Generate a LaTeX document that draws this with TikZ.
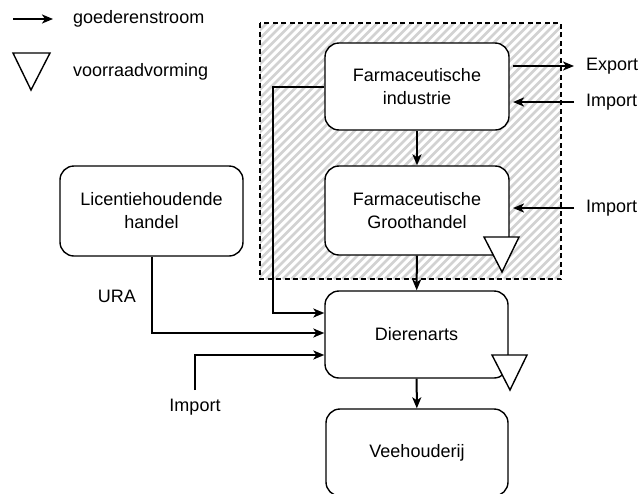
\documentclass[tikz,border=0pt]{standalone}
\usepackage{fontspec}
\setmainfont{Liberation Sans}
\usetikzlibrary{arrows.meta}
\begin{document}
\begin{tikzpicture}[x=1pt,y=-1pt,
  box/.style={draw,line width=1.4pt,rounded corners=14pt,fill=white,align=center,
    inner sep=0pt,font=\fontsize{18}{23}\selectfont},
  lbl/.style={inner sep=0pt,font=\fontsize{18}{23}\selectfont},
  flow/.style={line width=2pt,-{Stealth[length=11pt,width=9pt,inset=3pt]}},
  stock/.style={draw,line width=1.4pt,fill=white,line join=miter}
]
\useasboundingbox (0,0) rectangle (640,493);
% hatched region
\begin{scope}
  \clip (260,23) rectangle (561,279);
  \foreach \i in {-300,-291.5,...,320} {
    \draw[gray!35,line width=2.8pt] (260+\i,279) -- (260+\i+256,23);
  }
\end{scope}
\draw[dashed,dash pattern=on 5pt off 3.5pt,line width=1.3pt] (260,23) rectangle (561,279);

% boxes
\node[box,minimum width=184pt,minimum height=87pt] (ind) at (417,86.5) {Farmaceutische\\industrie};
\node[box,minimum width=184pt,minimum height=89pt] (gro) at (417,210.5) {Farmaceutische\\Groothandel};
\node[box,minimum width=183pt,minimum height=90pt] (lic) at (151.5,211) {Licentiehoudende\\handel};
\node[box,minimum width=183pt,minimum height=87pt] (dier) at (416.5,334.5) {Dierenarts};
\node[box,minimum width=182pt,minimum height=87pt] (vee) at (417,452.5) {Veehouderij};

% stock triangles
\draw[stock] (484,237) -- (519,237) -- (502,272) -- cycle;
\draw[stock] (492,355) -- (527,355) -- (510,390) -- cycle;

% labels
\node[lbl,anchor=west] (exp) at (586,66) {Export};
\node[lbl,anchor=west] (imp1) at (586,102) {Import};
\node[lbl,anchor=west] (imp2) at (586,208) {Import};
\node[lbl] (imp3) at (195,407) {Import};
\node[lbl] (ura) at (117,296) {URA};

% flows
\draw[flow] (ind) -- (gro);
\draw[flow] (gro) -- (dier);
\draw[flow] (dier) -- (vee);
\coordinate (e1) at (513,66);
\coordinate (e2) at (574,66);
\draw[flow] (e1) -- (e2);
\coordinate (i1a) at (574,102);
\coordinate (i1b) at (513,102);
\draw[flow] (i1a) -- (i1b);
\coordinate (i2a) at (574,208);
\coordinate (i2b) at (513,208);
\draw[flow] (i2a) -- (i2b);
\draw[flow] (ind.west |- 0,87) -- (273,87) -- (273,313) -- (dier.west |- 0,313);
\draw[flow] (lic.south -| 152,0) -- (152,333) -- (dier.west |- 0,333);
\coordinate (i3) at (195,390);
\draw[flow] (i3) -- (195,355) -- (dier.west |- 0,355);

% legend
\coordinate (la) at (13,19);
\coordinate (lb) at (53,19);
\draw[flow] (la) -- (lb);
\node[lbl,anchor=west] (lg1) at (73,19) {goederenstroom};
\draw[stock] (13,53) -- (50,53) -- (31,90) -- cycle;
\node[lbl,anchor=west] (lg2) at (73,72) {voorraadvorming};
\end{tikzpicture}
\end{document}
